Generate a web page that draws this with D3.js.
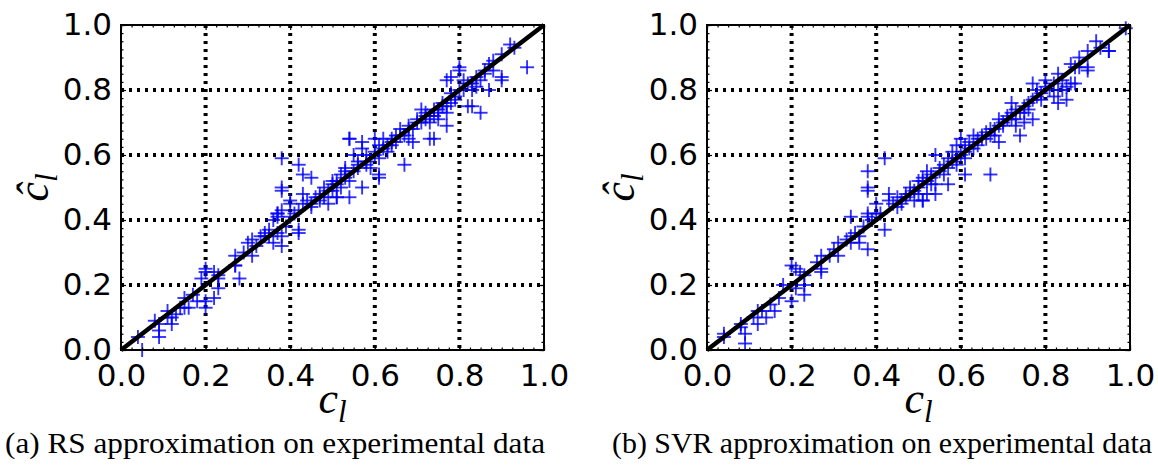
<!DOCTYPE html>
<meta charset="utf-8">
<style>
body { margin: 0; background: #fff; }
.tick text { font-family: 'DejaVu Sans', sans-serif; font-size: 31px; fill: #000; }
.grid line { stroke: #000; stroke-width: 4; stroke-dasharray: 3 5; }
.frame { fill: none; stroke: #000; stroke-width: 2; }
.marker { stroke: #0000ff; stroke-width: 1.9; stroke-opacity: 0.8; }
.diag { stroke: #000; stroke-width: 4.5; }
.mathlabel { font-family: 'Liberation Serif', serif; font-style: italic; font-size: 44px; }
.caption { font-family: 'Liberation Serif', serif; font-size: 30px; }
</style>
<body>
<script src="https://d3js.org/d3.v7.min.js"></script>
<script>

// tick values shared by both panels
var majorTicks = [0, 0.2, 0.4, 0.6, 0.8, 1.0];
var tickLabels = ["0.0", "0.2", "0.4", "0.6", "0.8", "1.0"];

// (a) RS approximation: [c_l, c_hat_l]
var rsPoints = [
  [0.04,0.04],[0.05,0.00],[0.09,0.06],[0.09,0.04],[0.09,0.08],[0.11,0.10],[0.12,0.08],[0.12,0.10],
  [0.13,0.11],[0.15,0.16],[0.16,0.13],[0.18,0.15],[0.20,0.15],[0.20,0.13],[0.19,0.22],[0.20,0.25],
  [0.22,0.24],[0.23,0.22],[0.23,0.19],[0.22,0.16],[0.27,0.26],[0.28,0.22],[0.27,0.29],[0.29,0.30],
  [0.31,0.34],[0.31,0.29],[0.32,0.32],[0.34,0.35],[0.34,0.36],[0.35,0.35],[0.36,0.33],[0.37,0.36],
  [0.38,0.35],[0.38,0.32],[0.37,0.42],[0.38,0.43],[0.40,0.45],[0.40,0.41],[0.42,0.37],[0.38,0.50],
  [0.38,0.49],[0.43,0.54],[0.43,0.48],[0.43,0.45],[0.45,0.44],[0.47,0.46],[0.47,0.48],[0.48,0.50],
  [0.49,0.45],[0.51,0.47],[0.51,0.51],[0.50,0.52],[0.52,0.54],[0.38,0.59],[0.42,0.57],[0.45,0.53],
  [0.61,0.53],[0.57,0.50],[0.54,0.47],[0.42,0.36],[0.40,0.46],[0.54,0.65],[0.67,0.57],[0.73,0.65],
  [0.08,0.09],[0.11,0.12],[0.14,0.13],[0.15,0.13],[0.17,0.17],[0.20,0.24],[0.23,0.23],[0.27,0.26],
  [0.30,0.33],[0.33,0.35],[0.35,0.37],[0.37,0.41],[0.39,0.38],[0.37,0.42],[0.36,0.40],
  [0.92,0.94],[0.90,0.91],[0.88,0.89],[0.86,0.86],[0.86,0.85],[0.96,0.87],[0.90,0.83],[0.87,0.80],
  [0.83,0.82],[0.84,0.81],[0.80,0.87],[0.80,0.86],[0.77,0.83],[0.81,0.83],[0.83,0.80],[0.82,0.75],
  [0.83,0.75],[0.85,0.73],[0.79,0.78],[0.79,0.77],[0.77,0.75],[0.76,0.75],[0.77,0.73],[0.75,0.74],
  [0.74,0.72],[0.72,0.73],[0.72,0.71],[0.71,0.74],[0.70,0.71],[0.73,0.70],[0.75,0.71],[0.77,0.69],
  [0.74,0.65],[0.69,0.68],[0.68,0.69],[0.66,0.68],[0.68,0.65],[0.69,0.64],[0.65,0.66],[0.64,0.65],
  [0.63,0.63],[0.62,0.65],[0.61,0.63],[0.60,0.65],[0.57,0.64],[0.54,0.65],[0.57,0.62],[0.60,0.61],
  [0.61,0.59],[0.58,0.57],[0.59,0.56],[0.61,0.54],[0.64,0.63],[0.56,0.56],[0.55,0.60],[0.53,0.56],
  [0.53,0.55],[0.51,0.52],[0.50,0.51],[0.54,0.52],[0.51,0.47],[0.90,0.84],[0.78,0.84],[0.93,0.93],
  [0.87,0.88],[0.84,0.84],[0.82,0.82],[0.80,0.80],[0.78,0.79],[0.76,0.76],[0.74,0.74],[0.72,0.72],
  [0.70,0.70],[0.68,0.68],[0.66,0.66],[0.64,0.64],[0.62,0.62],[0.60,0.60],[0.58,0.58],[0.56,0.57],
  [0.55,0.55],[0.53,0.53],[0.49,0.49],[0.47,0.47],[0.46,0.47],[0.45,0.45],[0.44,0.46],[0.42,0.43],
  [0.41,0.42],[0.48,0.47],[0.50,0.49],[0.52,0.50],[0.63,0.61],[0.65,0.64],[0.67,0.66],[0.71,0.70],
  [0.73,0.72],[0.75,0.73],[0.78,0.76],[0.81,0.80],[0.85,0.83],[0.88,0.86],[0.58,0.60],[0.56,0.58]
];

// (b) SVR approximation: [c_l, c_hat_l]
var svrPoints = [
  [0.04,0.04],[0.04,0.05],[0.08,0.07],[0.09,0.05],[0.09,0.02],[0.11,0.10],[0.12,0.08],[0.12,0.12],
  [0.14,0.10],[0.15,0.14],[0.16,0.12],[0.18,0.20],[0.20,0.26],[0.21,0.25],[0.20,0.15],[0.21,0.19],
  [0.22,0.24],[0.23,0.23],[0.23,0.17],[0.23,0.20],[0.27,0.24],[0.27,0.25],[0.27,0.29],[0.29,0.29],
  [0.31,0.33],[0.31,0.29],[0.34,0.35],[0.34,0.33],[0.36,0.33],[0.36,0.35],[0.38,0.31],[0.34,0.41],
  [0.38,0.41],[0.38,0.42],[0.40,0.45],[0.42,0.37],[0.38,0.49],[0.38,0.50],[0.38,0.55],[0.43,0.48],
  [0.43,0.46],[0.45,0.44],[0.46,0.46],[0.47,0.48],[0.48,0.50],[0.49,0.46],[0.51,0.46],[0.51,0.53],
  [0.50,0.52],[0.50,0.48],[0.40,0.42],[0.42,0.59],[0.08,0.08],[0.13,0.12],[0.17,0.16],[0.26,0.27],
  [0.30,0.31],[0.33,0.34],[0.35,0.36],[0.37,0.38],[0.39,0.40],[0.41,0.42],[0.44,0.45],[0.45,0.47],
  [0.99,0.99],[0.92,0.95],[0.90,0.92],[0.95,0.92],[0.88,0.90],[0.86,0.88],[0.90,0.86],[0.83,0.85],
  [0.87,0.82],[0.85,0.81],[0.83,0.80],[0.82,0.78],[0.85,0.77],[0.83,0.76],[0.80,0.83],[0.80,0.81],
  [0.77,0.82],[0.78,0.80],[0.79,0.79],[0.77,0.77],[0.75,0.75],[0.76,0.74],[0.75,0.73],[0.72,0.76],
  [0.73,0.74],[0.72,0.73],[0.72,0.71],[0.71,0.71],[0.70,0.70],[0.69,0.71],[0.73,0.69],[0.75,0.70],
  [0.77,0.71],[0.74,0.66],[0.68,0.68],[0.67,0.68],[0.66,0.67],[0.68,0.66],[0.69,0.64],[0.65,0.66],
  [0.64,0.65],[0.63,0.66],[0.64,0.63],[0.62,0.64],[0.61,0.63],[0.60,0.65],[0.59,0.63],[0.61,0.61],
  [0.58,0.61],[0.60,0.60],[0.61,0.59],[0.59,0.57],[0.57,0.59],[0.57,0.56],[0.54,0.60],[0.55,0.55],
  [0.53,0.54],[0.53,0.53],[0.52,0.55],[0.51,0.52],[0.50,0.50],[0.54,0.51],[0.57,0.51],[0.52,0.48],
  [0.54,0.48],[0.51,0.46],[0.61,0.54],[0.67,0.54],[0.86,0.82],[0.90,0.87],[0.95,0.92],[0.93,0.93],
  [0.87,0.87],[0.84,0.83],[0.82,0.82],[0.81,0.80],[0.78,0.78],[0.76,0.76],[0.74,0.73],[0.71,0.72],
  [0.69,0.69],[0.67,0.66],[0.65,0.65],[0.63,0.62],[0.62,0.62],[0.58,0.58],[0.56,0.57],[0.55,0.56],
  [0.52,0.52],[0.49,0.49],[0.48,0.48],[0.47,0.47],[0.46,0.45],[0.53,0.51],[0.56,0.54],[0.59,0.59],
  [0.66,0.65],[0.70,0.69],[0.73,0.71],[0.79,0.77],[0.84,0.80],[0.88,0.87]
];

var captions = ["(a) RS approximation on experimental data", "(b) SVR approximation on experimental data"];

var W = 423, H = 325;

var svg = d3.select("body").append("svg")
    .attr("width", 1158)
    .attr("height", 465);

function drawPanel(left, points, caption, capX) {
  var x = d3.scaleLinear().domain([0, 1]).range([0, W]);
  var y = d3.scaleLinear().domain([0, 1]).range([H, 0]);

  var g = svg.append("g").attr("transform", "translate(" + left + ",25)");

  // dotted grid
  var grid = g.append("g").attr("class", "grid");
  grid.selectAll(".gx").data(majorTicks.slice(1, -1)).enter().append("line")
    .attr("x1", d => x(d)).attr("x2", d => x(d)).attr("y1", 0).attr("y2", H);
  grid.selectAll(".gy").data(majorTicks.slice(1, -1)).enter().append("line")
    .attr("y1", d => y(d)).attr("y2", d => y(d)).attr("x1", 0).attr("x2", W);

  // blue + markers
  var m = g.append("g");
  points.forEach(function(p) {
    var px = x(p[0]), py = y(p[1]);
    m.append("line").attr("class", "marker")
      .attr("x1", px - 7).attr("x2", px + 7).attr("y1", py).attr("y2", py);
    m.append("line").attr("class", "marker")
      .attr("x1", px).attr("x2", px).attr("y1", py - 7).attr("y2", py + 7);
  });

  // identity line
  g.append("line").attr("class", "diag")
    .attr("x1", x(0)).attr("y1", y(0)).attr("x2", x(1)).attr("y2", y(1));

  // ticks, pointing inwards on all four sides
  var minor = d3.range(0, 1.0001, 0.025);
  var fmt = (d, i) => tickLabels[i];

  g.append("g").attr("transform", "translate(0," + H + ")")
    .call(d3.axisBottom(x).tickValues(majorTicks).tickSizeInner(-5).tickSizeOuter(0).tickPadding(14).tickFormat(fmt));
  g.append("g").call(d3.axisLeft(y).tickValues(majorTicks).tickSizeInner(-5).tickSizeOuter(0).tickPadding(9).tickFormat(fmt));
  g.append("g").call(d3.axisTop(x).tickValues(majorTicks).tickSizeInner(-5).tickSizeOuter(0).tickFormat(""));
  g.append("g").attr("transform", "translate(" + W + ",0)")
    .call(d3.axisRight(y).tickValues(majorTicks).tickSizeInner(-5).tickSizeOuter(0).tickFormat(""));

  g.append("g").attr("transform", "translate(0," + H + ")")
    .call(d3.axisBottom(x).tickValues(minor).tickSizeInner(-2.5).tickSizeOuter(0).tickFormat(""));
  g.append("g").call(d3.axisLeft(y).tickValues(minor).tickSizeInner(-2.5).tickSizeOuter(0).tickFormat(""));
  g.append("g").call(d3.axisTop(x).tickValues(minor).tickSizeInner(-2.5).tickSizeOuter(0).tickFormat(""));
  g.append("g").attr("transform", "translate(" + W + ",0)")
    .call(d3.axisRight(y).tickValues(minor).tickSizeInner(-2.5).tickSizeOuter(0).tickFormat(""));

  g.selectAll(".domain").remove();
  g.selectAll(".tick line").attr("stroke", "#000").attr("stroke-width", 1.2);

  g.append("rect").attr("class", "frame").attr("width", W).attr("height", H);

  // axis labels
  var xl = g.append("text").attr("class", "mathlabel")
    .attr("x", W / 2).attr("y", H + 63).attr("text-anchor", "middle");
  xl.append("tspan").text("c");
  xl.append("tspan").attr("dy", 9).attr("font-size", 31).text("l");

  var yl = g.append("text").attr("class", "mathlabel")
    .attr("transform", "translate(-73," + (H / 2) + ") rotate(-90)")
    .attr("text-anchor", "middle");
  yl.append("tspan").text("\u0109");
  yl.append("tspan").attr("dy", 9).attr("font-size", 31).text("l");

  svg.append("text").attr("class", "caption")
    .attr("x", capX).attr("y", 453)
    .attr("textLength", 540).attr("lengthAdjust", "spacingAndGlyphs")
    .text(caption);
}

drawPanel(121, rsPoints, captions[0], 5);
drawPanel(707, svrPoints, captions[1], 612);

</script>
</body>
